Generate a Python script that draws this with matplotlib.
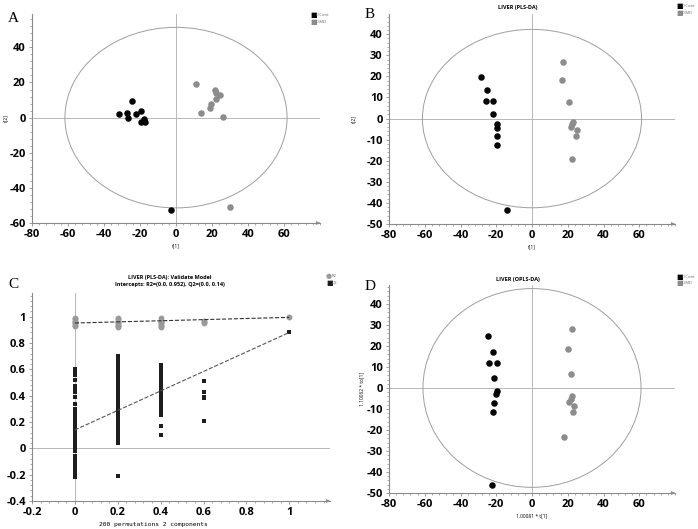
import numpy as np
import matplotlib
matplotlib.use("Agg")
import matplotlib.pyplot as plt
from matplotlib.patches import Ellipse
from matplotlib.ticker import AutoMinorLocator

# ---------------- data ----------------
# Panel A (PCA scores)
a_cont_x = [-31.7, -27.4, -26.7, -24.3, -22.4, -19.6, -19.3, -18.0, -17.2, -3.0]
a_cont_y = [1.9, 2.9, 0.0, 9.5, 1.9, 3.8, -2.5, -0.6, -2.5, -52.8]
a_md_x = [11.3, 14.1, 19.1, 19.3, 21.7, 22.4, 22.4, 24.6, 26.1, 30.2]
a_md_y = [19.0, 2.5, 5.7, 7.6, 15.8, 14.3, 10.5, 13.0, 0.6, -50.9]
a_ellipse = (61.7, 51.4)

# Panel B (PLS-DA scores)
b_cont_x = [-28.7, -24.9, -26.0, -21.8, -21.8, -19.4, -19.7, -19.7, -19.7, -14.2]
b_cont_y = [19.5, 13.4, 8.2, 8.4, 2.1, -2.8, -4.7, -8.2, -12.3, -43.5]
b_md_x = [17.6, 17.0, 20.9, 22.8, 22.4, 21.8, 25.2, 24.8, 22.4]
b_md_y = [26.9, 18.4, 7.9, -1.6, -2.7, -4.1, -5.4, -8.2, -19.3]
b_ellipse = (61.3, 42.3)

# Panel D (OPLS-DA scores)
d_cont_x = [-24.4, -22.0, -24.2, -19.8, -21.1, -19.8, -20.4, -21.1, -21.8, -22.4]
d_cont_y = [24.7, 17.3, 11.9, 11.7, 4.8, -1.4, -3.0, -7.0, -11.4, -46.4]
d_md_x = [22.4, 20.0, 22.0, 22.2, 21.8, 20.6, 23.7, 22.8, 18.1]
d_md_y = [28.1, 18.7, 6.7, -4.0, -5.2, -6.8, -8.4, -11.4, -23.5]
d_ellipse = (61.0, 47.3)

# Panel C (permutation test)
r2_x = [0, 0, 0, 0, 0, 0, 0, 0.2, 0.2, 0.2, 0.2, 0.2, 0.2, 0.2, 0.2,
        0.4, 0.4, 0.4, 0.4, 0.4, 0.4, 0.4, 0.6, 0.6, 0.6, 1.0]
r2_y = [0.93, 0.94, 0.95, 0.96, 0.97, 0.98, 0.99, 0.92, 0.93, 0.94, 0.95, 0.96, 0.97, 0.98, 0.99,
        0.92, 0.93, 0.94, 0.95, 0.96, 0.97, 0.99, 0.95, 0.96, 0.97, 0.995]
q2_at_0 = [0.60, 0.58, 0.56, 0.52, 0.47, 0.45, 0.43, 0.39, 0.34, 0.30, 0.28, 0.26, 0.24,
           0.22, 0.20, 0.18, 0.16, 0.14, 0.12, 0.10, 0.08, 0.06, 0.04, 0.02, 0.00, -0.02,
           -0.06, -0.08, -0.10, -0.13, -0.15, -0.17, -0.19, -0.21, -0.22]
q2_at_02 = [0.70, 0.68, 0.66, 0.64, 0.62, 0.60, 0.58, 0.56, 0.54, 0.52, 0.50, 0.48, 0.46,
            0.44, 0.42, 0.40, 0.38, 0.36, 0.34, 0.32, 0.30, 0.28, 0.26, 0.24, 0.22, 0.20,
            0.18, 0.16, 0.14, 0.12, 0.09, 0.07, 0.05, 0.04, -0.21]
q2_at_04 = [0.63, 0.61, 0.59, 0.57, 0.55, 0.53, 0.51, 0.49, 0.47, 0.45, 0.43, 0.41, 0.39,
            0.37, 0.35, 0.33, 0.31, 0.29, 0.27, 0.25, 0.17, 0.10]
q2_at_06 = [0.51, 0.43, 0.39, 0.38, 0.21]
q2_at_1 = [0.88]
r2_intercept = (0.0, 0.952)
r2_end = (1.0, 0.995)
q2_intercept = (0.0, 0.14)
q2_end = (1.0, 0.88)

groups = ["D-Cont", "D-MD"]
black = "#050505"
grey = "#8c8c8c"
axis_col = "#8a8a8a"

plt.rcParams["font.family"] = "Open Sans"
plt.rcParams["axes.unicode_minus"] = False

fig = plt.figure(figsize=(6.98, 5.29), dpi=100)
W, H = 698, 529


def rect(x0, y_top, x1, y_bot):
    return [x0 / W, 1 - y_bot / H, (x1 - x0) / W, (y_bot - y_top) / H]


def style_axes(ax, xlim, ylim, xticks, yticks, fmt=None):
    ax.set_xlim(*xlim)
    ax.set_ylim(*ylim)
    for s in ["top", "right"]:
        ax.spines[s].set_visible(False)
    for s in ["left", "bottom"]:
        ax.spines[s].set_color(axis_col)
        ax.spines[s].set_linewidth(0.8)
    ax.set_xticks(xticks)
    ax.set_yticks(yticks)
    if fmt is not None:
        ax.set_xticklabels([fmt(v) for v in xticks])
        ax.set_yticklabels([fmt(v) for v in yticks])
    ax.xaxis.set_minor_locator(AutoMinorLocator(5))
    ax.yaxis.set_minor_locator(AutoMinorLocator(5))
    ax.tick_params(which="major", length=2.5, width=0.6, color=axis_col, labelsize=8, pad=2)
    ax.tick_params(which="minor", length=1.3, width=0.5, color=axis_col)
    for lab in ax.get_xticklabels() + ax.get_yticklabels():
        lab.set_fontweight("bold")
    ax.patch.set_alpha(0)
    ax.annotate("", xy=(1.0, 0), xytext=(0.985, 0), xycoords="axes fraction",
                arrowprops=dict(arrowstyle="-|>", color=axis_col, lw=0.6,
                                mutation_scale=5), annotation_clip=False)


def legend_block(x, y, labels, markers, colors):
    for i, (g, m, c) in enumerate(zip(labels, markers, colors)):
        yy = 1 - (y + i * 6.5) / H
        fig.text(x / W, yy, m, color=c, fontsize=5, va="center", ha="left",
                 family="DejaVu Sans")
        fig.text((x + 6) / W, yy, g, color="#666666", fontsize=3, va="center", ha="left")


def score_panel(rc, cx, cy, mx, my, ell, ylim, yticks, xlab, ylab, ylab_x, title, leg_xy):
    ax = fig.add_axes(rc)
    style_axes(ax, (-80, 80), ylim, [-80, -60, -40, -20, 0, 20, 40, 60], yticks)
    ax.axhline(0, color="#b8b8b8", lw=0.7, zorder=0)
    ax.axvline(0, color="#b8b8b8", lw=0.7, zorder=0)
    ax.add_patch(Ellipse((0, 0), 2 * ell[0], 2 * ell[1], fill=False,
                         edgecolor="#9e9e9e", lw=0.7))
    ax.scatter(cx, cy, s=22, color=black, zorder=3, linewidths=0)
    ax.scatter(mx, my, s=22, color=grey, zorder=3, linewidths=0)
    ax.set_xlabel(xlab, fontsize=3.5)
    ax.set_ylabel(ylab, fontsize=3.5)
    ax.xaxis.set_label_coords(0.5, -0.096)
    ax.yaxis.set_label_coords(ylab_x, 0.5)
    if title:
        ax.text(0.45, 1.0 + 6 / (rc[3] * H), title, transform=ax.transAxes, fontsize=4,
                fontweight="bold", ha="center", va="center")
    legend_block(leg_xy[0], leg_xy[1], groups, ["\u25a0", "\u25a0"], [black, grey])
    return ax


score_panel(rect(32, 14, 320, 223), a_cont_x, a_cont_y, a_md_x, a_md_y, a_ellipse,
            (-60, 59), [-60, -40, -20, 0, 20, 40], "t[1]", "t[2]", -0.083, None, (310, 15))
score_panel(rect(389, 14, 675, 224), b_cont_x, b_cont_y, b_md_x, b_md_y, b_ellipse,
            (-50, 49.6), [-50, -40, -30, -20, -10, 0, 10, 20, 30, 40], "t[1]", "t[2]", -0.115,
            "LIVER (PLS-DA)", (676, 6))
score_panel(rect(389, 285, 675, 493), d_cont_x, d_cont_y, d_md_x, d_md_y, d_ellipse,
            (-50, 49), [-50, -40, -30, -20, -10, 0, 10, 20, 30, 40], "1.00081 * t[1]",
            "1.10062 * to[1]", -0.087, "LIVER (OPLS-DA)", (676, 277))

# Panel C
axc = fig.add_axes(rect(32, 293, 330, 501))
style_axes(axc, (-0.2, 1.19), (-0.4, 1.18), [-0.2, 0, 0.2, 0.4, 0.6, 0.8, 1],
           [-0.4, -0.2, 0, 0.2, 0.4, 0.6, 0.8, 1], fmt=lambda v: f"{v:g}")
axc.axhline(0, color="#b8b8b8", lw=0.7, zorder=0)
axc.axvline(0, color="#b8b8b8", lw=0.7, zorder=0)
q2_x = ([0] * len(q2_at_0) + [0.2] * len(q2_at_02) + [0.4] * len(q2_at_04)
        + [0.6] * len(q2_at_06) + [1.0] * len(q2_at_1))
q2_y = q2_at_0 + q2_at_02 + q2_at_04 + q2_at_06 + q2_at_1
axc.scatter(q2_x, q2_y, s=11, marker="s", color="#1e1e1e", zorder=3, linewidths=0)
axc.scatter(r2_x, r2_y, s=18, color="#9a9a9a", zorder=3, linewidths=0)
axc.plot([r2_intercept[0], r2_end[0]], [r2_intercept[1], r2_end[1]],
         ls="--", color="#333333", lw=0.8, zorder=4)
axc.plot([q2_intercept[0], q2_end[0]], [q2_intercept[1], q2_end[1]],
         ls="--", color="#555555", lw=0.8, zorder=4)
axc.set_xlabel("200 permutations 2 components", fontsize=4.5, family="DejaVu Sans Mono")
axc.xaxis.set_label_coords(0.406, -0.10)
fig.text(170 / W, 1 - 278 / H, "LIVER (PLS-DA): Validate Model", fontsize=4,
         fontweight="bold", ha="center", va="center")
fig.text(170 / W, 1 - 284.5 / H, "Intercepts: R2=(0.0, 0.952), Q2=(0.0, 0.14)", fontsize=4,
         fontweight="bold", ha="center", va="center")
legend_block(326, 276, ["R2", "Q2"], ["\u25cf", "\u25a0"], ["#9a9a9a", "#1e1e1e"])

# panel letters
for letter, (px, py) in zip("ABCD", [(13, 18), (370, 15), (13, 284), (370, 286)]):
    fig.text(px / W, 1 - py / H, letter, fontsize=11, family="Liberation Serif",
             ha="center", va="center")

fig.savefig("out.png", dpi=100, facecolor="white")
